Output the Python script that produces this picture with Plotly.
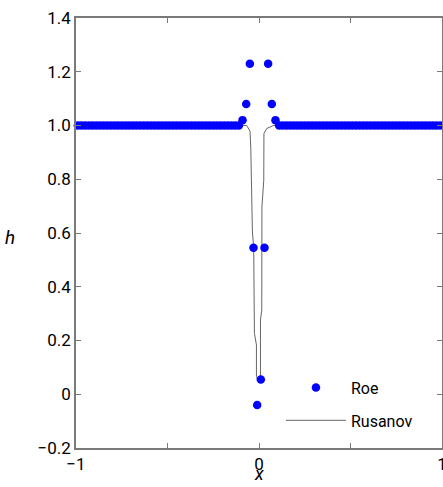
import plotly.graph_objects as go

# Roe scheme: cell-centred water depth on 100 cells over [-1, 1]
roe_x = [-0.99 + 0.02 * i for i in range(100)]
roe_h = [
    1.0, 1.0, 1.0, 1.0, 1.0, 1.0, 1.0, 1.0, 1.0, 1.0,
    1.0, 1.0, 1.0, 1.0, 1.0, 1.0, 1.0, 1.0, 1.0, 1.0,
    1.0, 1.0, 1.0, 1.0, 1.0, 1.0, 1.0, 1.0, 1.0, 1.0,
    1.0, 1.0, 1.0, 1.0, 1.0, 1.0, 1.0, 1.0, 1.0, 1.0,
    1.0, 1.0, 1.0, 1.0, 1.0, 1.02, 1.08, 1.23, 0.545, -0.04,
    0.055, 0.545, 1.23, 1.08, 1.02, 1.0, 1.0, 1.0, 1.0, 1.0,
    1.0, 1.0, 1.0, 1.0, 1.0, 1.0, 1.0, 1.0, 1.0, 1.0,
    1.0, 1.0, 1.0, 1.0, 1.0, 1.0, 1.0, 1.0, 1.0, 1.0,
    1.0, 1.0, 1.0, 1.0, 1.0, 1.0, 1.0, 1.0, 1.0, 1.0,
    1.0, 1.0, 1.0, 1.0, 1.0, 1.0, 1.0, 1.0, 1.0, 1.0,
]

# Rusanov scheme: depth profile
rus_x = [-1.0, -0.067, -0.049, -0.045, -0.036, -0.029, -0.025, -0.014, -0.014,
         -0.006, 0.008, 0.008, 0.015, 0.016, 0.026, 0.027, 0.042, 0.079, 1.0]
rus_h = [1.0, 1.0, 0.979, 0.919, 0.604, 0.546, 0.227, 0.183, 0.066,
         0.053, 0.053, 0.276, 0.313, 0.697, 0.796, 0.970, 0.989, 1.0, 1.0]

x_ticks = [-1, -0.5, 0, 0.5, 1]
x_ticktext = ["\u22121", "", "0", "", "1"]
y_ticks = [-0.2, 0, 0.2, 0.4, 0.6, 0.8, 1.0, 1.2, 1.4]
y_ticktext = ["\u22120.2", "0", "0.2", "0.4", "0.6", "0.8", "1.0", "1.2", "1.4"]

FONT = "Roboto"
AXIS_GREY = "#7a7a7a"

fig = go.Figure()

fig.add_trace(go.Scatter(
    x=rus_x, y=rus_h, mode="lines", name="Rusanov",
    line=dict(color="#555555", width=0.9),
    legendrank=2, legendgroup="rus",
))
fig.add_trace(go.Scatter(
    x=roe_x, y=roe_h, mode="markers", name="Roe",
    marker=dict(color="#0000ff", size=8.5, line=dict(width=0)),
    cliponaxis=False, legendrank=1, legendgroup="roe",
))

axis_common = dict(
    showgrid=False, zeroline=False, automargin=False,
    showline=True, linecolor=AXIS_GREY, linewidth=1.5,
    mirror="ticks", ticks="inside", ticklen=5, tickcolor=AXIS_GREY, tickwidth=1,
    ticklabeloverflow="allow",
    tickfont=dict(family=FONT, size=17, color="#000000"),
)

fig.update_xaxes(range=[-1, 1], tickvals=x_ticks, ticktext=x_ticktext, **axis_common)
fig.update_yaxes(range=[-0.2, 1.4], tickvals=y_ticks, ticktext=y_ticktext, **axis_common)

fig.add_annotation(text="<i>h</i>", xref="paper", yref="paper", x=-0.18, y=0.49,
                   xanchor="center", yanchor="middle", showarrow=False,
                   font=dict(family=FONT, size=19, color="#000000"))
fig.add_annotation(text="<i>x</i>", xref="paper", yref="paper", x=0.5, y=-0.088,
                   xanchor="center", yanchor="bottom", showarrow=False,
                   font=dict(family=FONT, size=18, color="#000000"))

fig.update_layout(
    width=443, height=487,
    margin=dict(l=76, r=1, t=18, b=39, autoexpand=False),
    paper_bgcolor="white", plot_bgcolor="white",
    showlegend=True,
    legend=dict(
        x=0.56, y=0.18, xanchor="left", yanchor="top",
        bgcolor="rgba(0,0,0,0)", borderwidth=0,
        font=dict(family=FONT, size=16, color="#000000"),
        itemwidth=60, traceorder="grouped", tracegroupgap=9,
    ),
)

fig.write_html("out.html")
